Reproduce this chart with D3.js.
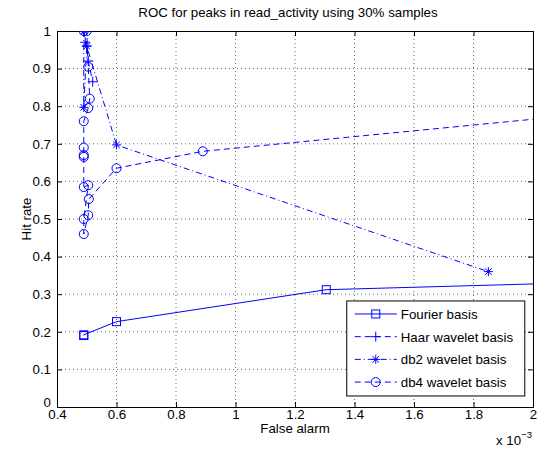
<!DOCTYPE html>
<html>
<head>
<meta charset="utf-8">
<script src="https://cdn.jsdelivr.net/npm/d3@7"></script>
<style>
  body { margin: 0; background: #fff; }
  text { font-family: "Liberation Sans", Arial, sans-serif; fill: #000; }
</style>
</head>
<body>
<svg id="chart" width="539" height="449"></svg>
<script>
// false alarm values are in units of 1e-3
const fourierX = [0.49, 0.49, 0.6, 1.305, 2.4];
const fourierY = [0.19, 0.192, 0.227, 0.312, 0.336];

const haarX = [0.49, 0.495, 0.5, 0.505, 0.52];
const haarY = [1.0, 0.97, 0.96, 0.92, 0.865];

const db2X = [0.49, 0.49, 0.5, 0.6, 1.85];
const db2Y = [1.0, 0.797, 0.96, 0.697, 0.36];

const db4X = [0.49, 0.5, 0.505, 0.51, 0.505, 0.49, 0.49, 0.49, 0.49, 0.49, 0.505, 0.49, 0.49, 0.505, 0.507, 0.6, 0.89, 2.4];
const db4Y = [1.0, 1.0, 0.905, 0.82, 0.795, 0.76, 0.69, 0.67, 0.665, 0.585, 0.59, 0.5, 0.46, 0.51, 0.553, 0.635, 0.68, 0.796];

const xTicks = [0.4, 0.6, 0.8, 1, 1.2, 1.4, 1.6, 1.8, 2];
const yTicks = [0, 0.1, 0.2, 0.3, 0.4, 0.5, 0.6, 0.7, 0.8, 0.9, 1];

const seriesNames = ["Fourier basis", "Haar wavelet basis", "db2 wavelet basis", "db4 wavelet basis"];

const margin = {top: 31, right: 6, bottom: 42, left: 57};
const width = 539 - margin.left - margin.right;
const height = 449 - margin.top - margin.bottom;
const blue = "#0000ff";
const fs = 13.3;

const svg = d3.select("#chart");
const g = svg.append("g").attr("transform", `translate(${margin.left},${margin.top})`);

const x = d3.scaleLinear().domain([0.4, 2]).range([0, width]);
const y = d3.scaleLinear().domain([0, 1]).range([height, 0]);

// grid
g.append("g").selectAll("line").data(xTicks.slice(1, -1)).join("line")
    .attr("x1", d => x(d)).attr("x2", d => x(d))
    .attr("y1", 0).attr("y2", height)
    .attr("stroke", "#444").attr("stroke-width", 0.8).attr("stroke-dasharray", "1,3");
g.append("g").selectAll("line").data(yTicks.slice(1, -1)).join("line")
    .attr("y1", d => y(d)).attr("y2", d => y(d))
    .attr("x1", 0).attr("x2", width)
    .attr("stroke", "#444").attr("stroke-width", 0.8).attr("stroke-dasharray", "1,3");

// axes with inward ticks
const fmt = d => d3.format("")(+d.toFixed(1));
g.append("g").attr("transform", `translate(0,${height})`)
    .call(d3.axisBottom(x).tickValues(xTicks).tickSize(-5).tickPadding(3).tickFormat(fmt));
const yAx = g.append("g")
    .call(d3.axisLeft(y).tickValues(yTicks).tickSize(-5).tickPadding(6).tickFormat(fmt));
// matlab lifts the bottom label a little
yAx.selectAll(".tick text").filter(d => d === 0).attr("dy", "-0.05em");
g.append("g")
    .call(d3.axisTop(x).tickValues(xTicks).tickSize(-5).tickFormat(""));
g.append("g").attr("transform", `translate(${width},0)`)
    .call(d3.axisRight(y).tickValues(yTicks).tickSize(-5).tickFormat(""));
g.selectAll(".domain").attr("stroke", "#000").attr("stroke-width", 1);
g.selectAll(".tick line").attr("stroke", "#000");
g.selectAll(".tick text").attr("font-size", fs).attr("font-family", "Liberation Sans, Arial, sans-serif").attr("fill", "#000");

// clip
svg.append("defs").append("clipPath").attr("id", "clip")
    .append("rect").attr("width", width).attr("height", height);
const plot = g.append("g").attr("clip-path", "url(#clip)");

const line = d3.line().x(d => x(d[0])).y(d => y(d[1]));

function marker(sel, type) {
    if (type === "square") {
        sel.append("rect").attr("x", -4).attr("y", -4).attr("width", 8).attr("height", 8)
            .attr("fill", "none").attr("stroke", blue);
    } else if (type === "circle") {
        sel.append("circle").attr("r", 4.5).attr("fill", "none").attr("stroke", blue);
    } else if (type === "plus") {
        sel.append("path").attr("d", "M-5,0H5M0,-5V5").attr("stroke", blue);
    } else if (type === "star") {
        sel.append("path").attr("d", "M-4.5,0H4.5M0,-4.5V4.5M-3.3,-3.3L3.3,3.3M-3.3,3.3L3.3,-3.3").attr("stroke", blue);
    }
}

const series = [
    {xs: fourierX, ys: fourierY, dash: null, mark: "square"},
    {xs: haarX, ys: haarY, dash: "6,4", mark: "plus"},
    {xs: db2X, ys: db2Y, dash: "6,3,1,3", mark: "star"},
    {xs: db4X, ys: db4Y, dash: "6,4", mark: "circle"}
];

series.forEach(s => {
    const pts = s.xs.map((v, i) => [v, s.ys[i]]);
    plot.append("path").datum(pts)
        .attr("fill", "none").attr("stroke", blue).attr("stroke-width", 1)
        .attr("stroke-dasharray", s.dash)
        .attr("d", line);
    plot.append("g").selectAll("g").data(pts).join("g")
        .attr("transform", d => `translate(${x(d[0])},${y(d[1])})`)
        .each(function () { marker(d3.select(this), s.mark); });
});

// title and labels
svg.append("text").attr("x", 288).attr("y", 17).attr("text-anchor", "middle")
    .attr("font-size", fs).text("ROC for peaks in read_activity using 30% samples");
svg.append("text").attr("x", margin.left + width / 2).attr("y", 433).attr("text-anchor", "middle")
    .attr("font-size", fs).text("False alarm");
svg.append("text").attr("transform", `translate(31,${margin.top + height / 2}) rotate(-90)`)
    .attr("text-anchor", "middle").attr("font-size", fs).text("Hit rate");
const exp = svg.append("text").attr("x", 496).attr("y", 445).attr("font-size", fs);
exp.append("tspan").text("x 10");
exp.append("tspan").attr("dy", -7).attr("font-size", 9.5).text("−3");

// legend
const lg = g.append("g").attr("transform", `translate(${x(1.374)},${y(0.282)})`);
const lgW = 178, lgH = 95;
lg.append("rect").attr("width", lgW).attr("height", lgH)
    .attr("fill", "#fff").attr("stroke", "#000").attr("stroke-width", 1);
series.forEach((s, i) => {
    const row = lg.append("g").attr("transform", `translate(0,${13 + i * 22.7})`);
    row.append("line").attr("x1", 8).attr("x2", 50).attr("y1", 0).attr("y2", 0)
        .attr("stroke", blue).attr("stroke-dasharray", s.dash);
    marker(row.append("g").attr("transform", "translate(29,0)"), s.mark);
    row.append("text").attr("x", 54).attr("y", 5).attr("font-size", fs).text(seriesNames[i]);
});
</script>
</body>
</html>
